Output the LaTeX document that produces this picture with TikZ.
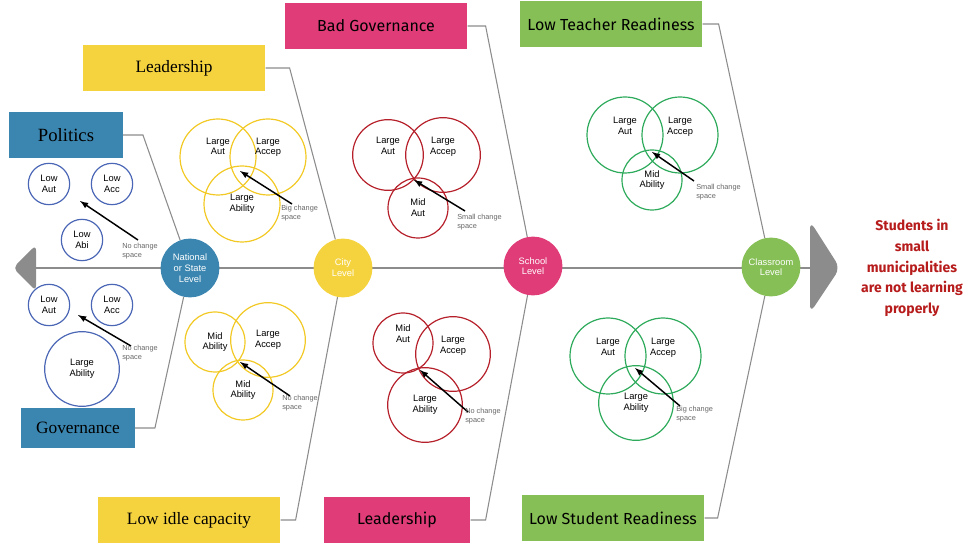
\documentclass[tikz,border=0pt]{standalone}
\usepackage{fontspec}
\setmainfont{Liberation Sans}
\newfontfamily\boxserif{Liberation Serif}
\newfontfamily\fira{Fira Sans}
\usetikzlibrary{arrows,positioning}
\definecolor{natblue}{HTML}{3B86B0}
\definecolor{cityyel}{HTML}{F5D33F}
\definecolor{schpink}{HTML}{E03C78}
\definecolor{clsgreen}{HTML}{86BF55}
\definecolor{ringblue}{HTML}{4A66B5}
\definecolor{ringyel}{HTML}{F2C924}
\definecolor{ringred}{HTML}{B5202A}
\definecolor{ringgreen}{HTML}{2EAA5C}
\definecolor{bone}{HTML}{8C8C8C}
\definecolor{outred}{HTML}{B71C1C}
\tikzset{
  level/.style={circle, fill=#1, text=white, font=\fontsize{7}{8}\selectfont,
    align=center, minimum size=44pt, inner sep=0pt},
  cause/.style={fill=#1, minimum width=137pt, minimum height=35pt, inner sep=0pt},
  ring/.style={circle, draw=#1, line width=0.9pt, align=center, inner sep=0pt,
    font=\fontsize{7}{8}\selectfont},
  gap/.style={font=\fontsize{5.5}{6.5}\selectfont, text=gray!80!black, align=left,
    anchor=west, inner sep=0pt},
  pointer/.style={-latex, line width=1.1pt},
  bonel/.style={draw=bone, line width=0.8pt}
}
\begin{document}
\begin{tikzpicture}[x=0.75pt, y=-0.75pt]
\useasboundingbox (0,0) rectangle (970,548);

% head and tail of the spine
\fill[bone, rounded corners=4pt] (13,268) -- (36,245) -- (36,291) -- cycle;
\fill[bone, rounded corners=6pt] (810,221) -- (840,268) -- (810,313) -- cycle;
\coordinate (tail) at (30,268);
\coordinate (head) at (815,268);
\draw[bonel, line width=1.8pt] (tail) -- (head);

% levels
\node[level=natblue] (nat) at (190,268) {National\\or State\\Level};
\node[level=cityyel] (city) at (343,268) {City\\Level};
\node[level=schpink] (sch) at (533,266) {School\\Level};
\node[level=clsgreen] (cls) at (771,267) {Classroom\\Level};

% causes
\node[cause=natblue, minimum width=85pt] (pol) at (66,135) {\boxserif\fontsize{14}{16}\selectfont Politics};
\node[cause=natblue, minimum width=85pt, minimum height=30pt] (gov) at (78,428) {\boxserif\fontsize{13}{15}\selectfont Governance};
\node[cause=cityyel] (lead) at (174,68) {\boxserif\fontsize{13}{15}\selectfont Leadership};
\node[cause=cityyel] (idle) at (189,520) {\boxserif\fontsize{13}{15}\selectfont Low idle capacity};
\node[cause=schpink] (badgov) at (376,26) {\fira\fontsize{12}{14}\selectfont Bad Governance};
\node[cause=schpink, minimum width=110pt] (slead) at (397,520) {\fira\fontsize{12}{14}\selectfont Leadership};
\node[cause=clsgreen] (teach) at (611,24) {\fira\fontsize{12}{14}\selectfont Low Teacher Readiness};
\node[cause=clsgreen] (stud) at (613,518) {\fira\fontsize{12}{14}\selectfont Low Student Readiness};

\draw[bonel] (pol.east) -- ++(20,0) -- (nat);
\draw[bonel] (gov.east) -- ++(20,0) -- (nat);
\draw[bonel] (lead.east) -- ++(24,0) -- (city);
\draw[bonel] (idle.east) -- ++(15,0) -- (city);
\draw[bonel] (badgov.east) -- ++(18,0) -- (sch);
\draw[bonel] (slead.east) -- ++(15,0) -- (sch);
\draw[bonel] (teach.east) -- ++(16,0) -- (cls);
\draw[bonel] (stud.east) -- ++(13,0) -- (cls);

% national rings
\node[ring=ringblue, minimum size=31pt] (nt1) at (49,184) {Low\\Aut};
\node[ring=ringblue, minimum size=31pt] (nt2) at (112,184) {Low\\Acc};
\node[ring=ringblue, minimum size=31pt] (nt3) at (82,240) {Low\\Abi};
\coordinate (nt0) at (138,240);
\draw[pointer] (nt0) -- (80,201);
\node[gap] (ntg) at (122,251) {No change\\space};
\node[ring=ringblue, minimum size=31pt] (nb1) at (49,305) {Low\\Aut};
\node[ring=ringblue, minimum size=31pt] (nb2) at (112,305) {Low\\Acc};
\node[ring=ringblue, minimum size=56pt] (nb3) at (82,369) {Large\\Ability};
\coordinate (nb0) at (131,346);
\draw[pointer] (nb0) -- (78,315);
\node[gap] (nbg) at (122,353) {No change\\space};

% city rings
\node[ring=ringyel, minimum size=57pt] (ct1) at (218,157) {Large\\Aut\\[8pt]};
\node[ring=ringyel, minimum size=57pt] (ct2) at (268,157) {Large\\Accep\\[8pt]};
\node[ring=ringyel, minimum size=57pt] (ct3) at (242,204) {Large\\Ability};
\coordinate (ct0) at (292,204);
\draw[pointer] (ct0) -- (240,171);
\node[gap] (ctg) at (281,213) {Big change\\space};
\node[ring=ringyel, minimum size=45pt] (cb1) at (215,342) {Mid\\Ability};
\node[ring=ringyel, minimum size=56pt] (cb2) at (268,340) {Large\\Accep};
\node[ring=ringyel, minimum size=45pt] (cb3) at (243,390) {Mid\\Ability};
\coordinate (cb0) at (290,396);
\draw[pointer] (cb0) -- (240,362);
\node[gap] (cbg) at (282,403) {No change\\space};

% school rings
\node[ring=ringred, minimum size=53pt] (st1) at (388,155) {Large\\Aut\\[6pt]};
\node[ring=ringred, minimum size=56pt] (st2) at (443,155) {Large\\Accep\\[6pt]};
\node[ring=ringred, minimum size=45pt] (st3) at (418,208) {Mid\\Aut};
\coordinate (st0) at (465,211);
\draw[pointer] (st0) -- (414,180);
\node[gap] (stg) at (457,222) {Small change\\space};
\node[ring=ringred, minimum size=45pt] (sb1) at (403,343) {Mid\\Aut\\[6pt]};
\node[ring=ringred, minimum size=56pt] (sb2) at (453,354) {Large\\Accep\\[6pt]};
\node[ring=ringred, minimum size=56pt] (sb3) at (425,405) {Large\\Ability};
\coordinate (sb0) at (468,412);
\draw[pointer] (sb0) -- (420,370);
\node[gap] (sbg) at (465,416) {No change\\space};

% classroom rings
\node[ring=ringgreen, minimum size=57pt] (lt1) at (625,135) {Large\\Aut\\[6pt]};
\node[ring=ringgreen, minimum size=57pt] (lt2) at (680,135) {Large\\Accep\\[6pt]};
\node[ring=ringgreen, minimum size=45pt] (lt3) at (652,180) {Mid\\Ability};
\coordinate (lt0) at (694,181);
\draw[pointer] (lt0) -- (652,152);
\node[gap] (ltg) at (696,192) {Small change\\space};
\node[ring=ringgreen, minimum size=57pt] (lb1) at (608,356) {Large\\Aut\\[6pt]};
\node[ring=ringgreen, minimum size=57pt] (lb2) at (663,356) {Large\\Accep\\[6pt]};
\node[ring=ringgreen, minimum size=56pt] (lb3) at (636,403) {Large\\Ability};
\coordinate (lb0) at (680,406);
\draw[pointer] (lb0) -- (635,368);
\node[gap] (lbg) at (676,414) {Big change\\space};

% effect
\node[text=outred, align=center, font=\fira\bfseries\fontsize{10.5}{15.5}\selectfont] (eff) at (912,268)
  {Students in\\small\\municipalities\\are not learning\\properly};
\end{tikzpicture}
\end{document}
